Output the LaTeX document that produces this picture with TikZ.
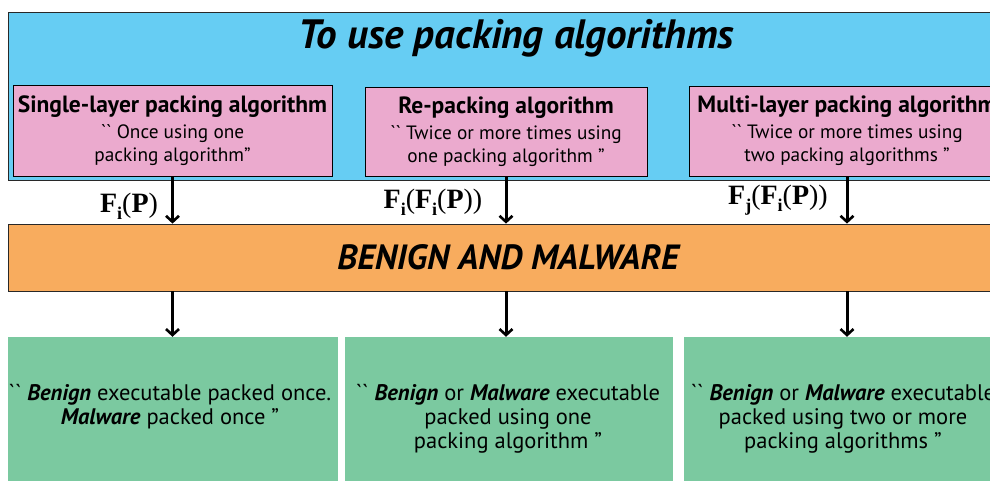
\documentclass[tikz,border=0pt]{standalone}
\usepackage[no-math]{fontspec}
\setmainfont{PT Sans}[Ligatures=TeXOff]
\newfontfamily\serifb{Liberation Serif}
\usetikzlibrary{arrows.meta}
\definecolor{bluebg}{RGB}{102,205,243}
\definecolor{pinkbg}{RGB}{235,170,206}
\definecolor{orangebg}{RGB}{248,172,94}
\definecolor{greenbg}{RGB}{123,201,160}
\definecolor{edge}{RGB}{40,40,40}
\tikzset{
  pinkbox/.style={draw=black, line width=0.8pt, fill=pinkbg, inner sep=0pt, align=center, font=\fontsize{19.3}{23}\selectfont},
  greenbox/.style={fill=greenbg, inner sep=0pt},
  gtext/.style={align=center, font=\fontsize{22.5}{24}\selectfont},
  arr/.style={line width=3pt, -{Straight Barb[length=6pt,width=13pt,line width=2.6pt]}},
  flabel/.style={font=\fontsize{28}{32}\selectfont\serifb},
}
\newcommand{\hd}[1]{{\fontsize{23.5}{26}\selectfont\bfseries #1}}
\newcommand{\fb}[1]{\textbf{#1}}
\newcommand{\fs}[1]{\raisebox{-0.24em}{\fontsize{18}{20}\selectfont\bfseries #1}}
\begin{document}
\begin{tikzpicture}[x=1pt,y=-1pt]
\useasboundingbox (0,0) rectangle (990,481);
\clip (0,0) rectangle (990,481);
% top blue box
\node[draw=edge, line width=0.9pt, fill=bluebg, minimum width=1016pt, minimum height=168pt, inner sep=0pt] (blue) at (516,96) {};
\node[font=\fontsize{41}{46}\selectfont\bfseries\itshape] (title) at (516,38) {To use packing algorithms};
% pink boxes
\node[pinkbox, minimum width=319pt, minimum height=91pt] (p1) at (172.5,130.5)
  {\hd{Single-layer packing algorithm}\\[3pt]`` Once using one\\packing algorithm”};
\node[pinkbox, minimum width=282pt, minimum height=89pt] (p2) at (506,131.5)
  {\hd{Re-packing algorithm}\\[3pt]`` Twice or more times using\\one packing algorithm ”};
\node[pinkbox, minimum width=316pt, minimum height=90pt] (p3) at (847,131)
  {\hd{Multi-layer packing algorithm}\\[3pt]`` Twice or more times using\\two packing algorithms ”};
% orange box
\node[draw=edge, line width=0.8pt, fill=orangebg, minimum width=1000pt, minimum height=67pt, inner sep=0pt,
      font=\fontsize{35}{40}\selectfont\bfseries\itshape] (orange) at (508,257.5) {BENIGN AND MALWARE};
% green boxes
\node[greenbox, minimum width=330pt, minimum height=158pt] (g1) at (173,416) {};
\node[greenbox, minimum width=328pt, minimum height=158pt] (g2) at (509,416) {};
\node[greenbox, minimum width=322pt, minimum height=158pt] (g3) at (845,416) {};
\node[gtext] (g1t) at (170,407) {`` \textbf{\textit{Benign}} executable packed once.\\\textbf{\textit{Malware}} packed once ”};
\node[gtext] (g2t) at (508,419) {`` \textbf{\textit{Benign}} or \textbf{\textit{Malware}} executable\\packed using one\\packing algorithm ”};
\node[gtext] (g3t) at (843,419) {`` \textbf{\textit{Benign}} or \textbf{\textit{Malware}} executable\\packed using two or more\\packing algorithms ”};
% arrows top
\draw[arr] (p1.south) -- (p1.south |- orange.north);
\draw[arr] (p2.south) -- (p2.south |- orange.north);
\draw[arr] (p3.south) -- (p3.south |- orange.north);
% labels
\node[flabel] (l1) at (129,206) {\fb{F}\fs{i}(\fb{P})};
\node[flabel] (l2) at (433,202) {\fb{F}\fs{i}(\fb{F}\fs{i}(\fb{P}))};
\node[flabel] (l3) at (778,200) {\fb{F}\fs{j}(\fb{F}\fs{i}(\fb{P}))};
% arrows bottom
\draw[arr] (orange.south -| p1.south) -- (g1.north -| p1.south);
\draw[arr] (orange.south -| p2.south) -- (g2.north -| p2.south);
\draw[arr] (orange.south -| p3.south) -- (g3.north -| p3.south);
\end{tikzpicture}
\end{document}
